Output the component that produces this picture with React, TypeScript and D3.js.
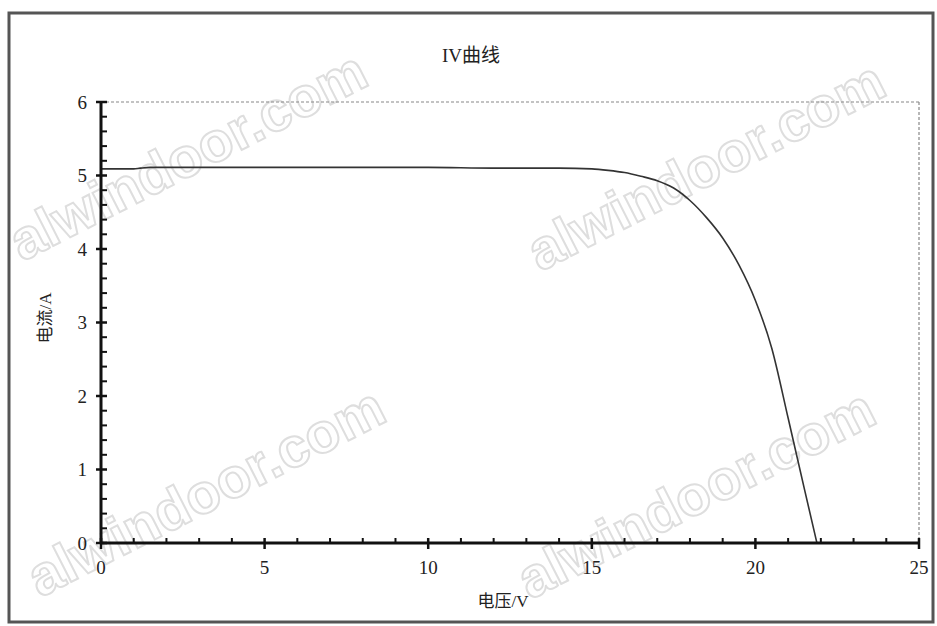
import React from "react";
import * as d3 from "d3";

const voltage = [0, 0.5, 1, 1.2, 1.5, 2, 3, 4, 5, 6, 8, 10, 12, 13, 14, 15, 15.5, 16, 16.5, 17, 17.5, 18, 18.5, 19, 19.5, 20, 20.5, 21, 21.5, 21.88];
const current = [5.09, 5.09, 5.09, 5.1, 5.11, 5.11, 5.11, 5.11, 5.11, 5.11, 5.11, 5.11, 5.1, 5.1, 5.1, 5.09, 5.07, 5.04, 4.99, 4.93, 4.83, 4.66, 4.43, 4.15, 3.78, 3.3, 2.65, 1.7, 0.73, 0];

const xTicks = [0, 5, 10, 15, 20, 25];
const yTicks = [0, 1, 2, 3, 4, 5, 6];
const xMinor = [1, 2, 3, 4, 6, 7, 8, 9, 11, 12, 13, 14, 16, 17, 18, 19, 21, 22, 23, 24];
const yMinor = [0.2, 0.4, 0.6, 0.8, 1.2, 1.4, 1.6, 1.8, 2.2, 2.4, 2.6, 2.8, 3.2, 3.4, 3.6, 3.8, 4.2, 4.4, 4.6, 4.8, 5.2, 5.4, 5.6, 5.8];
const title = "IV曲线";
const xLabel = "电压/V";
const yLabel = "电流/A";
const watermarkText = "alwindoor.com";

export default function App() {
  const W = 937, H = 626;
  const x = d3.scaleLinear().domain([0, 25]).range([101, 919]);
  const y = d3.scaleLinear().domain([0, 6]).range([543, 102]);
  const pts: [number, number][] = voltage.map((v, i) => [v, current[i]]);
  const line = d3.line<[number, number]>().x(d => x(d[0])).y(d => y(d[1])).curve(d3.curveMonotoneX);
  const serif = "'Liberation Serif', 'Times New Roman', 'Noto Sans CJK SC', serif";
  const wm = [
    { x: 22, y: 262 },
    { x: 540, y: 272 },
    { x: 40, y: 598 },
    { x: 530, y: 600 },
  ];
  return (
    <svg width={W} height={H} style={{ position: "absolute", left: 0, top: 0, background: "#fff" }}>
      <rect x={0} y={0} width={W} height={H} fill="#fff" />
      {wm.map((p, i) => (
        <text key={i} transform={`translate(${p.x},${p.y}) rotate(-27)`} fontFamily="'Liberation Sans', Arial, sans-serif" fontWeight="bold" fontSize={56} fill="none" stroke="#dedede" strokeWidth={2}>{watermarkText}</text>
      ))}
      <rect x={9} y={13} width={924} height={609} fill="none" stroke="#555" strokeWidth={3} />
      <line x1={x(0)} x2={x(25)} y1={y(6)} y2={y(6)} stroke="#888" strokeWidth={1.2} strokeDasharray="3,2" />
      <line x1={x(25)} x2={x(25)} y1={y(6)} y2={y(0)} stroke="#888" strokeWidth={1.2} strokeDasharray="3,2" />
      <path d={line(pts) || ""} fill="none" stroke="#333" strokeWidth={1.6} />
      <line x1={x(0)} x2={x(25)} y1={y(0)} y2={y(0)} stroke="#111" strokeWidth={3} />
      <line x1={x(0)} x2={x(0)} y1={y(0)} y2={y(6)} stroke="#111" strokeWidth={3} />
      {yTicks.map(t => (
        <g key={"yt" + t}>
          <line x1={x(0) - 5} x2={x(0) + 6} y1={y(t)} y2={y(t)} stroke="#111" strokeWidth={2.5} />
          <text x={x(0) - 14} y={y(t)} dy="0.35em" textAnchor="end" fontFamily={serif} fontSize={19} fill="#222">{t}</text>
        </g>
      ))}
      {yMinor.map(t => (
        <line key={"ym" + t} x1={x(0)} x2={x(0) + 6} y1={y(t)} y2={y(t)} stroke="#111" strokeWidth={2} />
      ))}
      {xTicks.map(t => (
        <g key={"xt" + t}>
          <line x1={x(t)} x2={x(t)} y1={y(0) - 5} y2={y(0) + 6} stroke="#111" strokeWidth={2.5} />
          <text x={x(t)} y={y(0) + 24} dy="0.35em" textAnchor="middle" fontFamily={serif} fontSize={19} fill="#222">{t}</text>
        </g>
      ))}
      {xMinor.map(t => (
        <line key={"xm" + t} x1={x(t)} x2={x(t)} y1={y(0) - 5} y2={y(0)} stroke="#111" strokeWidth={2} />
      ))}
      <text x={471} y={55} dy="0.35em" textAnchor="middle" fontFamily={serif} fontSize={19} fill="#222">{title}</text>
      <text x={503} y={601} dy="0.35em" textAnchor="middle" fontFamily={serif} fontSize={17} fill="#222">{xLabel}</text>
      <text transform={`translate(45,318) rotate(-90)`} dy="0.35em" textAnchor="middle" fontFamily={serif} fontSize={17} fill="#222">{yLabel}</text>
    </svg>
  );
}
